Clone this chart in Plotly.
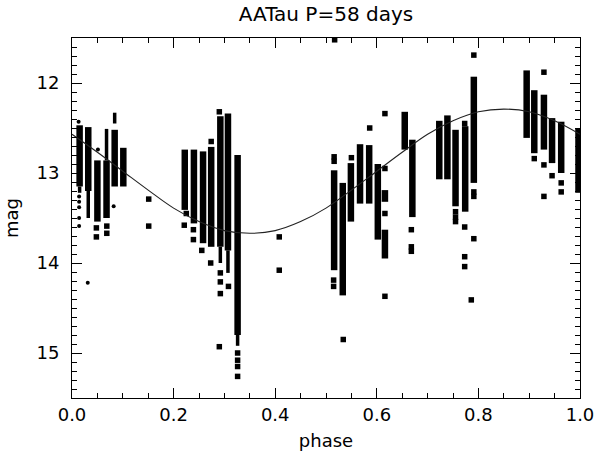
import plotly.graph_objects as go

# --- data ---
# dense nightly columns: phase, brightest (top) and faintest (bottom) magnitude
col_phase = [0.015, 0.032, 0.050, 0.068, 0.084, 0.101, 0.222, 0.240, 0.258, 0.274,
             0.292, 0.307, 0.326, 0.516, 0.533, 0.549, 0.567, 0.585, 0.602, 0.616,
             0.616, 0.655, 0.670, 0.723, 0.739, 0.755, 0.774, 0.791, 0.895, 0.910,
             0.929, 0.945, 0.963, 0.997]
col_top = [12.47, 12.49, 12.86, 12.86, 12.52, 12.72, 12.74, 12.74, 12.76, 12.71,
           12.37, 12.34, 12.80, 12.97, 13.11, 12.89, 12.68, 12.69, 12.90, 13.19,
           13.63, 12.32, 12.63, 12.42, 12.36, 12.52, 12.48, 11.93, 11.86, 12.08,
           12.13, 12.39, 12.43, 12.50]
col_bottom = [13.15, 13.20, 13.54, 13.50, 13.15, 13.15, 13.41, 13.56, 13.78, 13.82,
              13.82, 13.86, 14.80, 14.08, 14.36, 13.54, 13.34, 13.34, 13.74, 13.32,
              13.95, 12.74, 13.49, 13.07, 13.07, 13.37, 13.43, 13.11, 12.61, 12.78,
              12.74, 12.89, 13.00, 13.22]

# sparser, narrower column parts
thin_phase = [0.015, 0.032, 0.068, 0.084, 0.292, 0.307, 0.326]
thin_top = [13.15, 13.20, 12.51, 12.33, 13.82, 13.86, 14.80]
thin_bottom = [13.22, 13.50, 12.86, 12.45, 14.00, 14.11, 14.92]

# isolated square points
pt_phase = [0.048, 0.048, 0.0685, 0.0685, 0.151, 0.151, 0.225, 0.221, 0.239, 0.239,
            0.2555, 0.274, 0.273, 0.290, 0.290, 0.292, 0.292, 0.292, 0.308,
            0.326, 0.326, 0.326, 0.326, 0.408, 0.408, 0.517, 0.516, 0.516, 0.515,
            0.515, 0.534, 0.550, 0.586, 0.616, 0.616, 0.616, 0.616, 0.668, 0.668,
            0.668, 0.755, 0.755, 0.755, 0.773, 0.773, 0.773, 0.773, 0.786, 0.791,
            0.791, 0.791, 0.791, 0.910, 0.929, 0.929, 0.929, 0.945, 0.963, 0.963]
pt_mag = [13.61, 13.71, 13.59, 13.67, 13.29, 13.59, 13.45, 13.58, 13.63, 13.74,
          13.86, 12.65, 14.00, 12.32, 14.93, 14.11, 14.21, 14.34, 14.26,
          15.00, 15.08, 15.15, 15.26, 13.71, 14.08, 11.52, 12.82, 12.87, 14.19,
          14.26, 14.85, 12.83, 12.50, 12.34, 12.95, 13.45, 14.37, 13.63, 13.82,
          13.87, 13.43, 13.49, 13.54, 12.45, 13.60, 13.93, 14.04, 14.41, 11.69,
          13.21, 13.26, 13.73, 12.84, 11.88, 12.91, 13.26, 13.03, 13.11, 13.21]

# small round points
dot_phase = [0.013, 0.014, 0.014, 0.014, 0.014, 0.014, 0.031, 0.051, 0.082]
dot_mag = [12.43, 13.26, 13.32, 13.38, 13.50, 13.59, 14.22, 12.74, 13.37]

# fitted sinusoid, read at steps of 0.05 in phase
curve_phase = [0.00, 0.05, 0.10, 0.15, 0.20, 0.25, 0.30, 0.35, 0.40, 0.45, 0.50,
               0.55, 0.60, 0.65, 0.70, 0.75, 0.80, 0.85, 0.90, 0.95, 1.00]
curve_mag = [12.57, 12.77, 12.98, 13.19, 13.39, 13.54, 13.64, 13.67, 13.64, 13.54,
             13.39, 13.19, 12.98, 12.77, 12.57, 12.42, 12.32, 12.29, 12.32, 12.42,
             12.57]


def segments(ph, top, bot):
    xs, ys = [], []
    for p, t, b in zip(ph, top, bot):
        xs += [p, p, None]
        ys += [t, b, None]
    return xs, ys


FONT = "DejaVu Sans"
fig = go.Figure()

sx, sy = segments(col_phase, col_top, col_bottom)
fig.add_trace(go.Scatter(x=sx, y=sy, mode="lines",
                         line=dict(color="black", width=6.5), hoverinfo="skip"))
tx, ty = segments(thin_phase, thin_top, thin_bottom)
fig.add_trace(go.Scatter(x=tx, y=ty, mode="lines",
                         line=dict(color="black", width=3.5), hoverinfo="skip"))
fig.add_trace(go.Scatter(x=pt_phase, y=pt_mag, mode="markers",
                         marker=dict(symbol="square", size=5.5, color="black",
                                     line=dict(width=0))))
fig.add_trace(go.Scatter(x=dot_phase, y=dot_mag, mode="markers",
                         marker=dict(symbol="circle", size=4, color="black",
                                     line=dict(width=0))))
fig.add_trace(go.Scatter(x=curve_phase, y=curve_mag, mode="lines",
                         line=dict(color="#222222", width=1.1, shape="spline")))

axis_common = dict(
    showgrid=False, zeroline=False, showline=True, linecolor="black", linewidth=1,
    mirror="ticks", ticks="inside", ticklen=10, tickwidth=1, tickcolor="black",
    tickfont=dict(family=FONT, size=18, color="black"),
)

fig.update_xaxes(range=[0, 1], dtick=0.2, tickformat=".1f",
                 minor=dict(dtick=0.05, ticks="inside", ticklen=5, tickcolor="black"),
                 title=dict(text="phase", font=dict(family=FONT, size=18, color="black"),
                            standoff=10),
                 ticklabelstandoff=0,
                 **axis_common)
fig.update_yaxes(range=[15.5, 11.5], dtick=1, tick0=12,
                 minor=dict(dtick=0.1, ticks="inside", ticklen=5, tickcolor="black"),
                 title=dict(text="mag", font=dict(family=FONT, size=18, color="black"),
                            standoff=13),
                 ticklabelstandoff=8,
                 **axis_common)

fig.update_layout(
    width=599, height=460,
    margin=dict(l=72, r=19, t=38, b=62, autoexpand=False),
    paper_bgcolor="white", plot_bgcolor="white",
    showlegend=False,
    hovermode=False,
    title=dict(text="AATau P=58 days", x=0.5, xref="paper", xanchor="center",
               y=0.969, yref="container", yanchor="middle",
               font=dict(family=FONT, size=20, color="black")),
)

fig.write_html("out.html",
               config={"displayModeBar": False, "staticPlot": True},
               post_script="document.body.style.margin='0';document.body.style.overflow='hidden';")
